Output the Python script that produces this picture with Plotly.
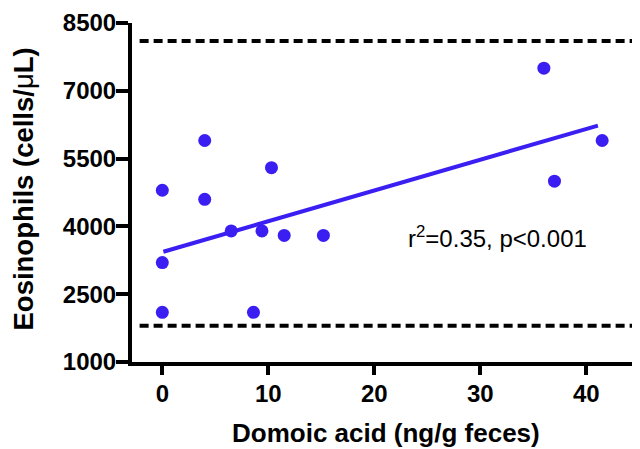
import plotly.graph_objects as go

# Data
domoic_acid = [0, 0, 0, 4.0, 4.0, 6.5, 8.6, 9.4, 10.3, 11.5, 15.2, 36.0, 37.0, 41.5]
eosinophils = [4800, 3200, 2100, 5900, 4600, 3900, 2100, 3900, 5300, 3800, 3800, 7500, 5000, 5900]

fit_x = [0.1, 41.1]
fit_y = [3440, 6230]

ref_high = 8100
ref_low = 1800

x_ticks = [0, 10, 20, 30, 40]
y_ticks = [1000, 2500, 4000, 5500, 7000, 8500]

stats_text = "r<sup>2</sup>=0.35, p<0.001"
stats_pos = (31.6, 3760)

BLUE = "#3a1ef2"
FONT = "Liberation Sans, Arial, sans-serif"

fig = go.Figure()

fig.add_trace(go.Scatter(
    x=fit_x, y=fit_y, mode="lines",
    line=dict(color=BLUE, width=4),
    hoverinfo="skip", showlegend=False,
))
fig.add_trace(go.Scatter(
    x=domoic_acid, y=eosinophils, mode="markers",
    marker=dict(color=BLUE, size=13, line=dict(width=0)),
    showlegend=False,
))

for v in (ref_high, ref_low):
    fig.add_shape(type="line", xref="paper", x0=0.015, x1=1, yref="y", y0=v, y1=v,
                  line=dict(color="black", width=4, dash="9px,5px"), layer="above")

fig.add_annotation(x=stats_pos[0], y=stats_pos[1], xref="x", yref="y",
                   text=stats_text, showarrow=False,
                   font=dict(family=FONT, size=24, color="black"))

fig.add_annotation(xref="paper", yref="paper", x=0.5, y=0, yshift=-55, yanchor="top",
                   text="<b>Domoic acid (ng/g feces)</b>", showarrow=False,
                   borderpad=0,
                   font=dict(family=FONT, size=26, color="black"))

fig.add_annotation(xref="paper", yref="paper", x=0, y=0.5, xshift=-109, xanchor="center",
                   yshift=3, textangle=-90,
                   text="<b>Eosinophils (cells/</b>μ<b>L)</b>", showarrow=False,
                   font=dict(family=FONT, size=27.5, color="black"))

axis_common = dict(
    showgrid=False, zeroline=False, showline=True, linecolor="black", linewidth=4,
    ticks="outside", tickcolor="black", tickwidth=4,
    tickfont=dict(family=FONT, size=24, color="black", weight="bold"),
)

fig.update_xaxes(range=[-2.86, 45.07], tickvals=x_ticks, ticklen=9,
                 ticklabelstandoff=-2, **axis_common)
fig.update_yaxes(range=[1000, 8500], tickvals=y_ticks, ticklen=12,
                 ticklabelstandoff=-5, **axis_common)

# the page body adds an 8px offset, so the figure is 632x441
fig.update_layout(
    width=632, height=441,
    margin=dict(l=124, r=0, t=15, b=87),
    plot_bgcolor="white", paper_bgcolor="white",
    font=dict(family=FONT, color="black"),
)

fig.write_html("out.html")
